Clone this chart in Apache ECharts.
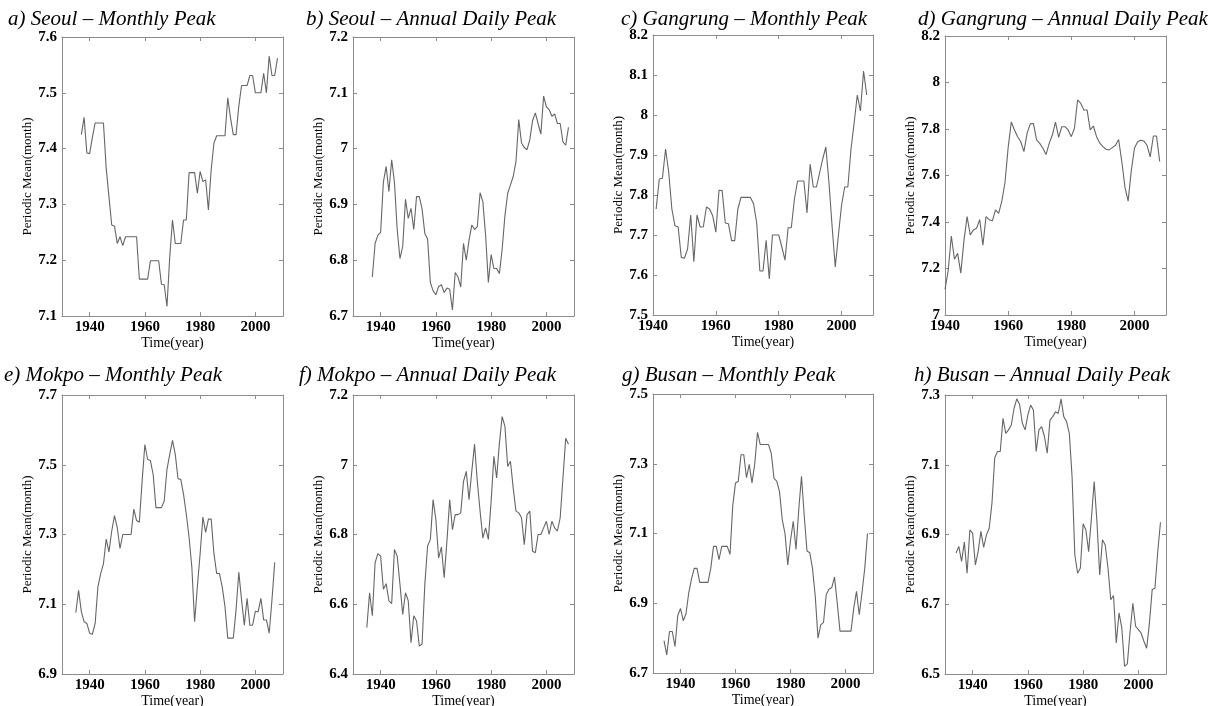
<!DOCTYPE html>
<html>
<head>
<meta charset="utf-8">
<script src="https://cdn.jsdelivr.net/npm/echarts@6.0.0/dist/echarts.min.js"></script>
<style>
  html, body { margin: 0; padding: 0; background: #fff; }
  #chart-container { width: 1215px; height: 706px; }
</style>
</head>
<body>
<div id="chart-container"></div>
<script>
// annual periodic means, one value per year from the start year
var seoulMonthlyStart = 1937;
var seoulMonthly = [
  7.425, 7.456, 7.392, 7.391, 7.42, 7.446, 7.446, 7.446, 7.446, 7.365,
  7.314, 7.263, 7.261, 7.23, 7.242, 7.226, 7.242, 7.242, 7.242, 7.242,
  7.242, 7.166, 7.166, 7.166, 7.166, 7.199, 7.199, 7.199, 7.199, 7.157,
  7.156, 7.117, 7.206, 7.272, 7.23, 7.23, 7.23, 7.272, 7.272, 7.357,
  7.357, 7.357, 7.32, 7.359, 7.341, 7.344, 7.29, 7.362, 7.41, 7.423,
  7.423, 7.423, 7.423, 7.491, 7.455, 7.425, 7.425, 7.476, 7.513, 7.513,
  7.513, 7.531, 7.531, 7.5, 7.5, 7.5, 7.535, 7.5, 7.566, 7.531,
  7.531, 7.562
];

var seoulDailyStart = 1937;
var seoulDaily = [
  6.77, 6.83, 6.845, 6.85, 6.94, 6.968, 6.923, 6.98, 6.94, 6.855,
  6.803, 6.825, 6.909, 6.875, 6.893, 6.855, 6.914, 6.914, 6.892, 6.848,
  6.838, 6.76, 6.745, 6.738, 6.753, 6.756, 6.742, 6.75, 6.748, 6.711,
  6.778, 6.77, 6.752, 6.83, 6.8, 6.836, 6.863, 6.855, 6.86, 6.921,
  6.905, 6.845, 6.76, 6.81, 6.785, 6.785, 6.776, 6.82, 6.88, 6.92,
  6.935, 6.95, 6.977, 7.052, 7.01, 7.002, 6.998, 7.016, 7.05, 7.064,
  7.045, 7.026, 7.094, 7.075, 7.07, 7.058, 7.062, 7.045, 7.045, 7.012,
  7.006, 7.038
];

var gangrungMonthlyStart = 1941;
var gangrungMonthly = [
  7.765, 7.84, 7.842, 7.915, 7.857, 7.765, 7.723, 7.72, 7.644, 7.642,
  7.665, 7.75, 7.633, 7.75, 7.72, 7.72, 7.77, 7.765, 7.748, 7.707,
  7.812, 7.811, 7.73, 7.728, 7.686, 7.686, 7.765, 7.794, 7.794, 7.794,
  7.794, 7.778, 7.73, 7.61, 7.61, 7.687, 7.59, 7.70, 7.70, 7.70,
  7.67, 7.637, 7.718, 7.718, 7.79, 7.835, 7.835, 7.835, 7.755, 7.877,
  7.82, 7.82, 7.855, 7.89, 7.92, 7.83, 7.72, 7.62, 7.70, 7.775,
  7.82, 7.82, 7.915, 7.98, 8.05, 8.01, 8.11, 8.05
];

var gangrungDailyStart = 1940;
var gangrungDaily = [
  7.11, 7.19, 7.34, 7.24, 7.265, 7.18, 7.32, 7.423, 7.344, 7.366,
  7.373, 7.41, 7.30, 7.423, 7.41, 7.405, 7.452, 7.437, 7.49, 7.57,
  7.72, 7.83, 7.796, 7.767, 7.745, 7.703, 7.781, 7.822, 7.824, 7.753,
  7.738, 7.717, 7.69, 7.738, 7.774, 7.83, 7.764, 7.81, 7.81, 7.796,
  7.767, 7.803, 7.925, 7.91, 7.882, 7.882, 7.796, 7.813, 7.767, 7.74,
  7.724, 7.713, 7.71, 7.72, 7.73, 7.755, 7.66, 7.55, 7.49, 7.62,
  7.717, 7.745, 7.752, 7.748, 7.73, 7.68, 7.77, 7.77, 7.66
];

var mokpoMonthlyStart = 1935;
var mokpoMonthly = [
  7.076, 7.14, 7.079, 7.05, 7.045, 7.017, 7.014, 7.045, 7.15, 7.188,
  7.216, 7.287, 7.25, 7.31, 7.354, 7.32, 7.26, 7.30, 7.30, 7.30,
  7.30, 7.373, 7.34, 7.335, 7.453, 7.558, 7.515, 7.512, 7.472, 7.377,
  7.377, 7.377, 7.396, 7.487, 7.53, 7.57, 7.53, 7.46, 7.458, 7.415,
  7.358, 7.292, 7.207, 7.05, 7.15, 7.245, 7.35, 7.306, 7.344, 7.344,
  7.245, 7.188, 7.188, 7.15, 7.093, 7.003, 7.003, 7.003, 7.083, 7.192,
  7.112, 7.04, 7.117, 7.04, 7.04, 7.08, 7.078, 7.117, 7.055, 7.055,
  7.017, 7.112, 7.22
];

var mokpoDailyStart = 1935;
var mokpoDaily = [
  6.533, 6.633, 6.567, 6.719, 6.745, 6.738, 6.643, 6.659, 6.61, 6.602,
  6.757, 6.738, 6.657, 6.571, 6.633, 6.61, 6.49, 6.567, 6.552, 6.48,
  6.486, 6.657, 6.767, 6.786, 6.9, 6.843, 6.733, 6.764, 6.676, 6.781,
  6.9, 6.814, 6.857, 6.857, 6.862, 6.952, 6.981, 6.9, 6.981, 7.059,
  6.952, 6.867, 6.79, 6.819, 6.786, 6.895, 7.024, 6.962, 7.062, 7.138,
  7.11, 6.995, 7.01, 6.933, 6.867, 6.862, 6.848, 6.771, 6.857, 6.867,
  6.752, 6.748, 6.8, 6.8, 6.819, 6.838, 6.8, 6.838, 6.819, 6.81,
  6.848, 6.962, 7.076, 7.059
];

var busanMonthlyStart = 1934;
var busanMonthly = [
  6.793, 6.752, 6.819, 6.819, 6.776, 6.865, 6.885, 6.85, 6.87, 6.93,
  6.97, 7.0, 7.0, 6.96, 6.96, 6.96, 6.96, 7.0, 7.063, 7.063,
  7.025, 7.063, 7.063, 7.063, 7.04, 7.18, 7.245, 7.25, 7.326, 7.326,
  7.26, 7.298, 7.245, 7.30, 7.39, 7.355, 7.355, 7.355, 7.355, 7.33,
  7.258, 7.25, 7.22, 7.14, 7.1, 7.01, 7.08, 7.135, 7.054, 7.168,
  7.264, 7.15, 7.05, 7.045, 7.0, 6.92, 6.8, 6.838, 6.845, 6.925,
  6.94, 6.945, 6.975, 6.9, 6.82, 6.82, 6.82, 6.82, 6.82, 6.886,
  6.934, 6.867, 6.93, 7.0, 7.1
];

var busanDailyStart = 1934;
var busanDaily = [
  6.847, 6.866, 6.823, 6.878, 6.789, 6.913, 6.904, 6.813, 6.851, 6.909,
  6.863, 6.899, 6.918, 6.99, 7.12, 7.138, 7.138, 7.233, 7.19, 7.2,
  7.214, 7.262, 7.289, 7.273, 7.219, 7.2, 7.243, 7.271, 7.257, 7.138,
  7.2, 7.209, 7.181, 7.133, 7.228, 7.238, 7.252, 7.247, 7.289, 7.238,
  7.224, 7.19, 7.066, 6.842, 6.789, 6.804, 6.931, 6.913, 6.851, 6.947,
  7.052, 6.937, 6.784, 6.885, 6.87, 6.804, 6.713, 6.725, 6.589, 6.675,
  6.632, 6.522, 6.529, 6.622, 6.703, 6.637, 6.627, 6.617, 6.594, 6.574,
  6.646, 6.742, 6.746, 6.85, 6.935
];

var yearTicks = [1940, 1960, 1980, 2000];

var panels = [
  { title: 'a) Seoul – Monthly Peak', start: seoulMonthlyStart, values: seoulMonthly,
    yMin: 7.1, yMax: 7.6, yStep: 0.1, xMin: 1930, box: [62, 37, 221, 279], titleAt: [8, 9] },
  { title: 'b) Seoul – Annual Daily Peak', start: seoulDailyStart, values: seoulDaily,
    yMin: 6.7, yMax: 7.2, yStep: 0.1, xMin: 1930, box: [353, 37, 221, 279], titleAt: [306, 9] },
  { title: 'c) Gangrung – Monthly Peak', start: gangrungMonthlyStart, values: gangrungMonthly,
    yMin: 7.5, yMax: 8.2, yStep: 0.1, xMin: 1940, box: [653, 35, 220, 280], titleAt: [621, 9] },
  { title: 'd) Gangrung – Annual Daily Peak', start: gangrungDailyStart, values: gangrungDaily,
    yMin: 7, yMax: 8.2, yStep: 0.2, xMin: 1940, box: [945, 36, 221, 279], titleAt: [918, 9] },
  { title: 'e) Mokpo – Monthly Peak', start: mokpoMonthlyStart, values: mokpoMonthly,
    yMin: 6.9, yMax: 7.7, yStep: 0.2, xMin: 1930, box: [62, 395, 221, 279], titleAt: [4, 365] },
  { title: 'f) Mokpo – Annual Daily Peak', start: mokpoDailyStart, values: mokpoDaily,
    yMin: 6.4, yMax: 7.2, yStep: 0.2, xMin: 1930, box: [353, 395, 221, 279], titleAt: [299, 365] },
  { title: 'g) Busan – Monthly Peak', start: busanMonthlyStart, values: busanMonthly,
    yMin: 6.7, yMax: 7.5, yStep: 0.2, xMin: 1930, box: [653, 394, 220, 279], titleAt: [622, 365] },
  { title: 'h) Busan – Annual Daily Peak', start: busanDailyStart, values: busanDaily,
    yMin: 6.5, yMax: 7.3, yStep: 0.2, xMin: 1930, box: [945, 395, 221, 279], titleAt: [914, 365] }
];

var serif = "'Liberation Serif', 'Times New Roman', serif";
var boxColor = '#8c8c8c';

var dom = document.getElementById('chart-container');
var myChart = echarts.init(dom, null, { renderer: 'canvas' });

var titles = [], grids = [], xAxes = [], yAxes = [], series = [];

panels.forEach(function (p, i) {
  titles.push({
    text: p.title, left: p.titleAt[0], top: p.titleAt[1], padding: 0,
    textStyle: { fontFamily: serif, fontStyle: 'italic', fontWeight: 'normal', fontSize: 21, color: '#000' }
  });
  grids.push({
    left: p.box[0], top: p.box[1], width: p.box[2], height: p.box[3],
    containLabel: false, outerBoundsMode: 'none'
  });

  var line = { show: true, onZero: false, lineStyle: { color: boxColor, width: 1 } };
  var tick = { show: true, inside: true, length: 4, lineStyle: { color: boxColor } };

  // bottom and top x axes (the top one only closes the box)
  xAxes.push({
    type: 'value', gridIndex: i, position: 'bottom', min: p.xMin, max: 2010,
    axisLine: line,
    axisTick: Object.assign({ customValues: yearTicks }, tick),
    axisLabel: {
      customValues: yearTicks, margin: 4, fontFamily: serif, fontWeight: 'bold', fontSize: 15, color: '#000',
      formatter: function (v) { return String(Math.round(v)); }
    },
    splitLine: { show: false },
    name: 'Time(year)', nameLocation: 'middle', nameGap: 18,
    nameTextStyle: { fontFamily: serif, fontSize: 14, color: '#000' }
  });
  xAxes.push({
    type: 'value', gridIndex: i, position: 'top', min: p.xMin, max: 2010,
    axisLine: line,
    axisTick: Object.assign({ customValues: yearTicks }, tick),
    axisLabel: { show: false },
    splitLine: { show: false }
  });

  yAxes.push({
    type: 'value', gridIndex: i, position: 'left', min: p.yMin, max: p.yMax, interval: p.yStep,
    axisLine: line, axisTick: tick,
    axisLabel: {
      margin: 5, fontFamily: serif, fontWeight: 'bold', fontSize: 15, color: '#000',
      formatter: function (v) { return String(+v.toFixed(1)); }
    },
    splitLine: { show: false },
    name: 'Periodic Mean(month)', nameLocation: 'middle', nameGap: 28, nameRotate: 90,
    nameTextStyle: { fontFamily: serif, fontSize: 13, color: '#000' }
  });
  yAxes.push({
    type: 'value', gridIndex: i, position: 'right', min: p.yMin, max: p.yMax, interval: p.yStep,
    axisLine: line, axisTick: tick,
    axisLabel: { show: false },
    splitLine: { show: false }
  });

  series.push({
    type: 'line', xAxisIndex: 2 * i, yAxisIndex: 2 * i,
    data: p.values.map(function (v, k) { return [p.start + k, v]; }),
    showSymbol: false, symbol: 'none', silent: true,
    lineStyle: { color: '#666', width: 1.1 }
  });
});

var option = {
  animation: false,
  backgroundColor: '#fff',
  title: titles,
  grid: grids,
  xAxis: xAxes,
  yAxis: yAxes,
  series: series
};

if (option && typeof option === 'object') {
  myChart.setOption(option);
}

window.addEventListener('resize', myChart.resize);
</script>
</body>
</html>
